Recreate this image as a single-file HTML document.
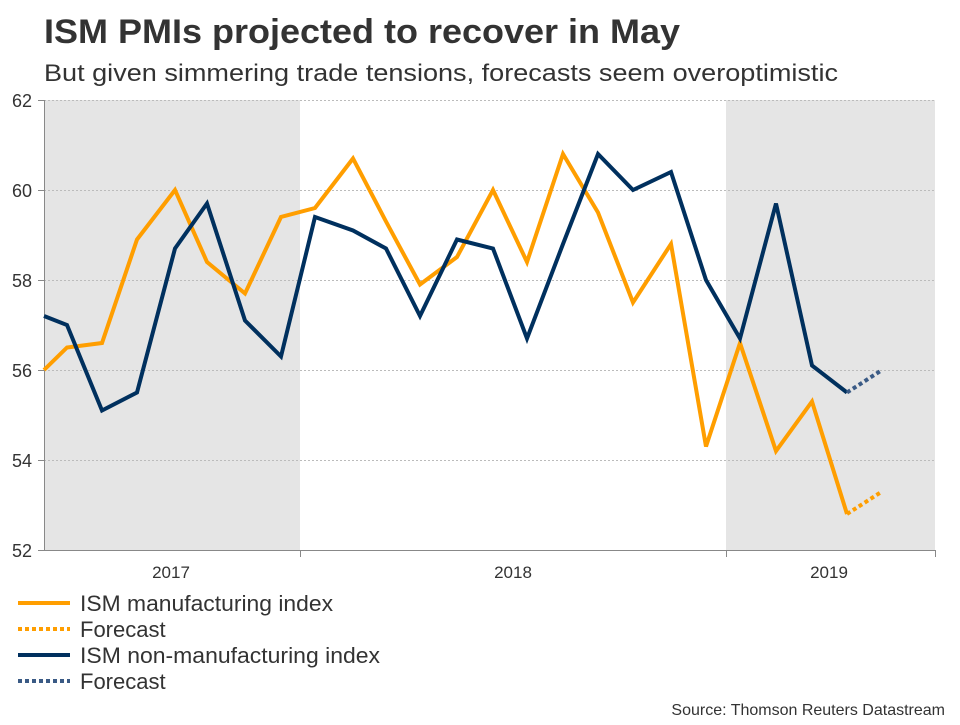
<!DOCTYPE html>
<html><head><meta charset="utf-8"><style>
body{margin:0;background:#fff;width:960px;height:720px;overflow:hidden;font-family:"Liberation Sans",sans-serif}
</style></head><body>
<svg width="960" height="720" xmlns="http://www.w3.org/2000/svg" font-family="Liberation Sans, sans-serif">
<text x="44" y="43" font-size="34" font-weight="bold" fill="#333" textLength="636" lengthAdjust="spacingAndGlyphs">ISM PMIs projected to recover in May</text>
<text x="44" y="81" font-size="24" fill="#333" textLength="794" lengthAdjust="spacingAndGlyphs">But given simmering trade tensions, forecasts seem overoptimistic</text>
<rect x="44" y="100" width="256" height="450" fill="#e5e5e5"/>
<rect x="726" y="100" width="209" height="450" fill="#e5e5e5"/>
<g stroke="#bbb" stroke-dasharray="2,2" stroke-width="1">
<line x1="44" x2="935" y1="100.5" y2="100.5"/><line x1="44" x2="935" y1="190.5" y2="190.5"/>
<line x1="44" x2="935" y1="280.5" y2="280.5"/><line x1="44" x2="935" y1="370.5" y2="370.5"/>
<line x1="44" x2="935" y1="460.5" y2="460.5"/>
</g>
<line x1="44.5" x2="44.5" y1="100" y2="550" stroke="#888"/>
<line x1="44" x2="935" y1="550.5" y2="550.5" stroke="#888"/>
<g stroke="#888"><line x1="38" x2="44" y1="100.5" y2="100.5"/><line x1="38" x2="44" y1="190.5" y2="190.5"/><line x1="38" x2="44" y1="280.5" y2="280.5"/><line x1="38" x2="44" y1="370.5" y2="370.5"/><line x1="38" x2="44" y1="460.5" y2="460.5"/><line x1="38" x2="44" y1="550.5" y2="550.5"/>
<line x1="300.5" x2="300.5" y1="550" y2="557"/><line x1="726.5" x2="726.5" y1="550" y2="557"/><line x1="935.5" x2="935.5" y1="550" y2="557"/></g>
<g font-size="18" fill="#333" text-anchor="end">
<text x="32" y="107">62</text><text x="32" y="197">60</text><text x="32" y="287">58</text><text x="32" y="377">56</text><text x="32" y="467">54</text><text x="32" y="557">52</text></g>
<g font-size="17" fill="#333" text-anchor="middle"><text x="171" y="578">2017</text><text x="513" y="578">2018</text><text x="829" y="578">2019</text></g>
<polyline fill="none" stroke="#ff9e00" stroke-width="4" points="44,370 67,347.5 102,343 137,239.5 175,190 207,262 245,293.5 281,217 315,208 353,158.5 386,221.5 420,284.5 457,257 493,190 527,262 563,154 598,212.5 633,302.5 671,244 706,446.5 740,343 776,451 812,401.5 847,514"/>
<polyline fill="none" stroke="#ff9e00" stroke-width="4" stroke-dasharray="4,3" points="847,514 882,491.5"/>
<polyline fill="none" stroke="#00305e" stroke-width="4" points="44,316 67,325 102,410.5 137,392.5 175,248.5 207,203.5 245,320.5 281,356.5 315,217 353,230.5 386,248.5 420,316 457,239.5 493,248.5 527,338.5 563,244 598,154 633,190 671,172 706,280 740,338.5 776,203.5 812,365.5 847,392.5"/>
<polyline fill="none" stroke="#3a5a85" stroke-width="4" stroke-dasharray="4,3" points="847,392.5 882,370"/>
<line x1="18" x2="70" y1="603" y2="603" stroke="#ff9e00" stroke-width="4"/>
<line x1="18" x2="70" y1="629" y2="629" stroke="#ff9e00" stroke-width="4" stroke-dasharray="4,3"/>
<line x1="18" x2="70" y1="655" y2="655" stroke="#00305e" stroke-width="4"/>
<line x1="18" x2="70" y1="681" y2="681" stroke="#3a5a85" stroke-width="4" stroke-dasharray="4,3"/>
<g font-size="22" fill="#333"><text x="80" y="611" textLength="253" lengthAdjust="spacingAndGlyphs">ISM manufacturing index</text><text x="80" y="637">Forecast</text><text x="80" y="663" textLength="300" lengthAdjust="spacingAndGlyphs">ISM non-manufacturing index</text><text x="80" y="689">Forecast</text></g>
<text x="945" y="715" font-size="16" fill="#333" text-anchor="end">Source: Thomson Reuters Datastream</text>
</svg>
</body></html>
